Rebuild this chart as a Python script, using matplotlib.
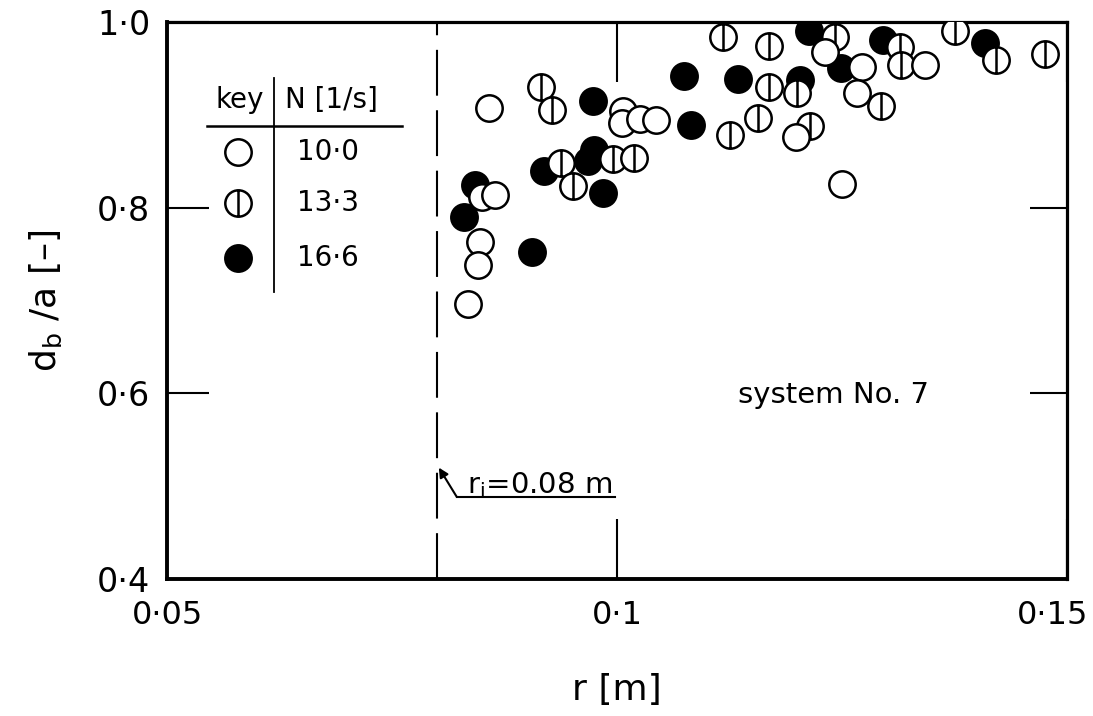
import matplotlib
matplotlib.use("Agg")
import matplotlib.pyplot as plt
import matplotlib.transforms as mtransforms
from matplotlib.path import Path

# N = 10.0 1/s (open circles)
r_open = [0.0858, 0.1007, 0.1006, 0.1026, 0.1043, 0.0850, 0.0864, 0.0848,
          0.0846, 0.0834, 0.1231, 0.1272, 0.1267, 0.1342, 0.1199, 0.1250]
d_open = [0.907, 0.904, 0.891, 0.896, 0.894, 0.812, 0.814, 0.763,
          0.738, 0.696, 0.968, 0.952, 0.923, 0.954, 0.876, 0.826]

# N = 13.3 1/s (circle with vertical bar)
r_half = [0.0916, 0.0928, 0.0938, 0.0951, 0.0996, 0.1019, 0.1118, 0.1169,
          0.1242, 0.1293, 0.1314, 0.1316, 0.1376, 0.1421, 0.1476, 0.1169,
          0.1200, 0.1157, 0.1214, 0.1126]
d_half = [0.930, 0.905, 0.848, 0.823, 0.852, 0.854, 0.984, 0.974,
          0.984, 0.909, 0.973, 0.954, 0.990, 0.959, 0.966, 0.930,
          0.923, 0.897, 0.888, 0.878]

# N = 16.6 1/s (filled circles)
r_full = [0.0842, 0.0830, 0.0906, 0.0919, 0.0968, 0.0974, 0.0984, 0.0973,
          0.1074, 0.1082, 0.1134, 0.1203, 0.1213, 0.1249, 0.1296, 0.1409]
d_full = [0.824, 0.790, 0.752, 0.840, 0.850, 0.862, 0.816, 0.915,
          0.942, 0.889, 0.939, 0.938, 0.990, 0.950, 0.981, 0.977]

legend_keys = ["10·0", "13·3", "16·6"]
x_ticks = [0.05, 0.1, 0.15]
x_tick_labels = ["0·05", "0·1", "0·15"]
y_ticks = [0.4, 0.6, 0.8, 1.0]
y_tick_labels = ["0·4", "0·6", "0·8", "1·0"]
r_inner = 0.08

# circle with a vertical bar as one marker
bar_marker = Path.make_compound_path(
    Path.unit_circle(),
    Path([[0, -1], [0, 1]], [Path.MOVETO, Path.LINETO]))

fig = plt.figure(figsize=(10.93, 7.16), dpi=100)
ax = fig.add_axes([0.1528, 0.1913, 0.8234, 0.778])
ax.set_xlim(0.05, 0.15)
ax.set_ylim(0.4, 1.0)

ms = 19
mew = 1.8
ax.plot(r_full, d_full, 'o', ms=ms, mfc='black', mec='black', mew=mew, zorder=3)
ax.plot(r_half, d_half, ls='none', marker=bar_marker, ms=ms, mfc='white',
        mec='black', mew=mew, zorder=4)
ax.plot(r_open, d_open, 'o', ms=ms, mfc='white', mec='black', mew=mew, zorder=5)

# inner radius line with its label
ax.axvline(r_inner, color='black', lw=1.5, dashes=(22, 7), zorder=2)
ax.plot([0.0822, 0.0998], [0.4884, 0.4884], color='black', lw=1.5)
ax.annotate('', xy=(0.0802, 0.520), xytext=(0.0822, 0.4884),
            arrowprops=dict(arrowstyle='-|>', color='black', lw=1.5,
                            mutation_scale=14, shrinkA=0, shrinkB=0))
ax.text(0.0833, 0.492, r'r$_\mathrm{i}$=0.08 m', fontsize=21,
        ha='left', va='baseline')

ax.text(0.1241, 0.598, 'system No. 7', fontsize=21, ha='center',
        va='center')

# key table in the upper left
head_y = 1 - (108 - 22) / 928.5
ax.text(0.0608, head_y, 'key', fontsize=20, ha='right', va='baseline')
ax.text(0.0631, head_y, 'N [1/s]', fontsize=20, ha='left', va='baseline')
ax.plot([0.0544, 0.0761], [1 - (126 - 22) / 928.5] * 2, color='black', lw=1.8)
ax.plot([0.0619, 0.0619], [1 - (78 - 22) / 928.5, 1 - (292 - 22) / 928.5],
        color='black', lw=1.3)
key_x = 0.0579
key_y = [1 - (152 - 22) / 928.5, 1 - (203 - 22) / 928.5, 1 - (258 - 22) / 928.5]
ax.plot([key_x], [key_y[0]], 'o', ms=ms, mfc='white', mec='black', mew=mew)
ax.plot([key_x], [key_y[1]], ls='none', marker=bar_marker, ms=ms, mfc='white',
        mec='black', mew=mew)
ax.plot([key_x], [key_y[2]], 'o', ms=ms, mfc='black', mec='black', mew=mew)
for lab, yy in zip(legend_keys, key_y):
    ax.text(0.0679, yy, lab, fontsize=20, ha='center', va='center')

# axes frame and inward ticks
for side in ['left', 'bottom']:
    ax.spines[side].set_linewidth(2.8)
for side in ['top', 'right']:
    ax.spines[side].set_linewidth(2.3)

ax.set_xticks(x_ticks)
ax.set_xticklabels(x_tick_labels)
ax.set_yticks(y_ticks)
ax.set_yticklabels(y_tick_labels)
ax.tick_params(axis='x', direction='in', length=43, width=1.5,
               labelsize=23, pad=15, top=True)
ax.tick_params(axis='y', direction='in', length=30, width=1.5,
               labelsize=24, pad=12, right=True)
for t in ax.yaxis.get_major_ticks():
    t.tick2line.set_markersize(27)

# pull the last x label a bit inwards so it stays on the page
last = ax.get_xticklabels()[-1]
last.set_transform(last.get_transform() +
                   mtransforms.ScaledTranslation(-0.14, 0, fig.dpi_scale_trans))

ax.set_xlabel('r [m]', fontsize=26, labelpad=30)
ax.set_ylabel(r'd$_\mathrm{b}$ /a [–]', fontsize=26, labelpad=24)

plt.savefig('out.png', dpi=100, facecolor='white')
